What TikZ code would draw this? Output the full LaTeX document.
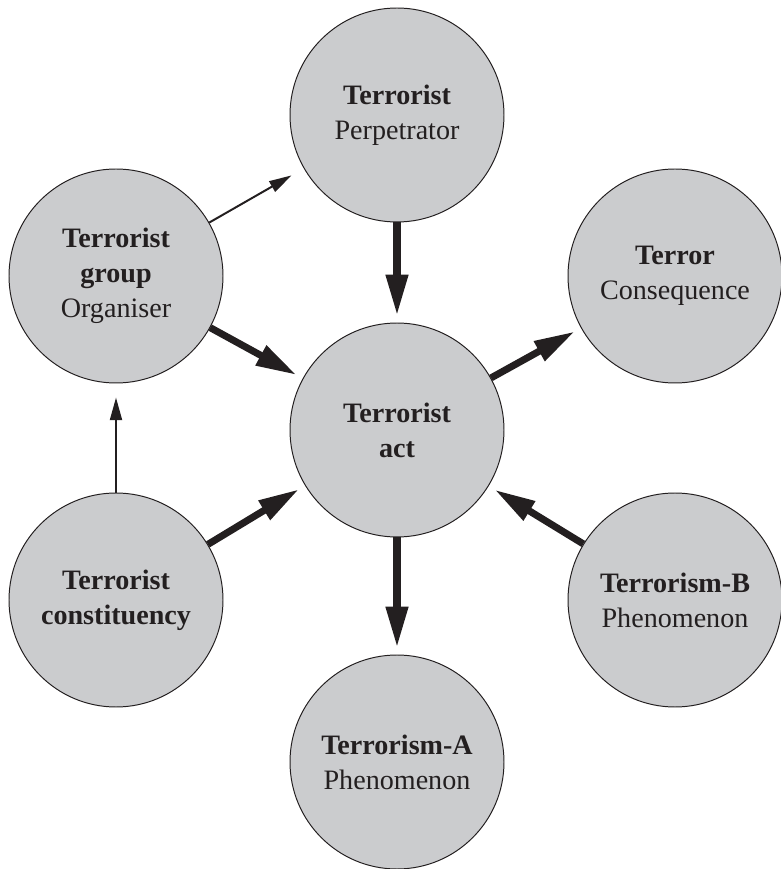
\documentclass[tikz,border=0pt]{standalone}
\usepackage{fontspec}
\setmainfont{Liberation Serif}
\usetikzlibrary{arrows.meta}
\definecolor{CircleGray}{HTML}{CBCCCE}
\definecolor{NiceBlack}{HTML}{231F20}

\begin{document}
\begin{tikzpicture}[
    blob/.style={circle, draw=NiceBlack, line width=0.7pt, fill=CircleGray,
      minimum size=5.35cm, inner sep=0pt, align=center, text=NiceBlack,
      font=\fontsize{20}{25}\selectfont},
    heavy/.style={NiceBlack, line width=5pt,
      -{Triangle[length=29pt,width=15pt]}, shorten >=5pt},
    light/.style={NiceBlack, line width=1.4pt,
      -{Triangle[length=16pt,width=8.5pt]}, shorten >=10pt}]
      \useasboundingbox (0,0) rectangle (19.5,21.725);
      % Circles
      \node[blob] (perp) at (9.925,18.85) {\textbf{Terrorist}\\Perpetrator};
      \node[blob] (group) at (2.9,14.825) {\textbf{Terrorist}\\\textbf{group}\\Organiser};
      \node[blob] (terror) at (16.875,14.825) {\textbf{Terror}\\Consequence};
      \node[blob] (act) at (9.925,10.975) {\textbf{Terrorist}\\\textbf{act}};
      \node[blob] (constit) at (2.9,6.725) {\textbf{Terrorist}\\\textbf{constituency}};
      \node[blob] (phenB) at (16.875,6.725) {\textbf{Terrorism-B}\\Phenomenon};
      \node[blob] (phenA) at (9.925,2.675) {\textbf{Terrorism-A}\\Phenomenon};
      % Thin arrows
      \draw[light] (group) -- (perp);
      \draw[light] (constit) -- (group);
      % Thick arrows
      \draw[heavy] (perp) -- (act);
      \draw[heavy] (group) -- (act);
      \draw[heavy] (constit) -- (act);
      \draw[heavy] (phenB) -- (act);
      \draw[heavy] (act) -- (terror);
      \draw[heavy] (act) -- (phenA);
\end{tikzpicture}
\end{document}
